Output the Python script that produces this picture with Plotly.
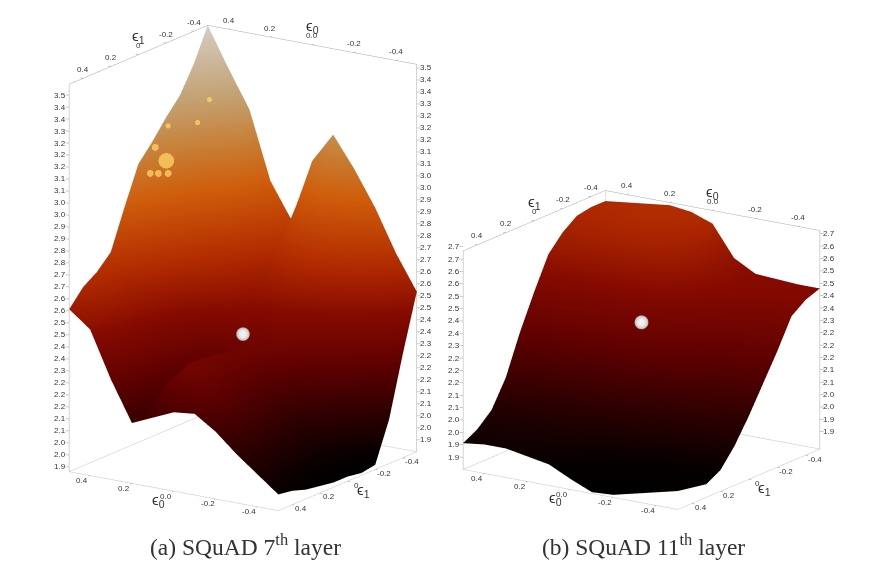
import numpy as np
import plotly.graph_objects as go

W, H = 869, 560   # the page adds an 8 px body margin

eps0 = [0.5, 0.4, 0.3, 0.2, 0.1, 0.0, -0.1, -0.2, -0.3, -0.4, -0.5]
eps1 = [0.5, 0.4, 0.3, 0.2, 0.1, 0.0, -0.1, -0.2, -0.3, -0.4, -0.5]

# rows: eps0 from 0.5 to -0.5, columns: eps1 from 0.5 to -0.5
loss_7th = [
    [2.60, 2.67, 2.71, 2.77, 2.94, 3.10, 3.17, 3.25, 3.32, 3.43, 3.57],
    [2.53, 2.58, 2.60, 2.62, 2.70, 2.82, 2.95, 3.05, 3.18, 3.30, 3.40],
    [2.33, 2.40, 2.45, 2.48, 2.52, 2.62, 2.72, 2.85, 3.00, 3.15, 3.24],
    [2.16, 2.18, 2.20, 2.25, 2.32, 2.44, 2.58, 2.68, 2.78, 2.90, 2.95],
    [2.20, 2.32, 2.24, 2.22, 2.22, 2.34, 2.50, 2.55, 2.62, 2.72, 2.80],
    [2.24, 2.42, 2.42, 2.41, 2.40, 2.40, 2.42, 2.52, 2.66, 2.85, 3.07],
    [2.25, 2.36, 2.34, 2.32, 2.32, 2.32, 2.42, 2.52, 2.68, 2.90, 3.20],
    [2.19, 2.22, 2.22, 2.20, 2.19, 2.18, 2.26, 2.42, 2.62, 2.82, 3.07],
    [2.11, 2.12, 2.10, 2.09, 2.08, 2.06, 2.12, 2.28, 2.52, 2.72, 2.92],
    [2.04, 2.02, 2.00, 1.99, 1.98, 1.97, 2.00, 2.10, 2.32, 2.58, 2.74],
    [1.97, 1.96, 1.94, 1.93, 1.92, 1.92, 1.91, 1.92, 2.09, 2.35, 2.59],
]
loss_11th = [
    [1.99, 2.02, 2.07, 2.17, 2.32, 2.45, 2.57, 2.63, 2.67, 2.68, 2.68],
    [2.00, 2.02, 2.05, 2.15, 2.30, 2.45, 2.57, 2.64, 2.67, 2.69, 2.69],
    [2.00, 2.01, 2.04, 2.13, 2.28, 2.44, 2.57, 2.64, 2.68, 2.70, 2.70],
    [1.985, 2.00, 2.03, 2.11, 2.25, 2.42, 2.55, 2.64, 2.68, 2.70, 2.71],
    [1.97, 1.98, 2.01, 2.08, 2.22, 2.40, 2.54, 2.63, 2.67, 2.69, 2.70],
    [1.93, 1.95, 1.98, 2.05, 2.19, 2.38, 2.52, 2.60, 2.64, 2.66, 2.67],
    [1.895, 1.92, 1.95, 2.02, 2.15, 2.33, 2.46, 2.53, 2.56, 2.56, 2.555],
    [1.90, 1.91, 1.93, 1.98, 2.10, 2.26, 2.38, 2.46, 2.50, 2.51, 2.51],
    [1.92, 1.92, 1.93, 1.97, 2.06, 2.19, 2.32, 2.41, 2.47, 2.50, 2.505],
    [1.94, 1.94, 1.94, 1.97, 2.04, 2.15, 2.27, 2.38, 2.45, 2.49, 2.50],
    [1.96, 1.95, 1.94, 1.97, 2.04, 2.13, 2.23, 2.33, 2.44, 2.48, 2.50],
]

# specular glints on the 7th-layer surface
glint_eps0 = [0.2, 0.2, 0.2, 0.2, 0.2, 0.2, 0.2, 0.2]
glint_eps1 = [0.253, 0.368, 0.31, 0.239, 0.332, -0.06, 0.026, 0.239]
glint_z = [3.229, 3.203, 3.188, 3.17, 3.306, 3.412, 3.335, 3.375]
glint_size = [18, 8, 8, 8, 8, 6, 6, 6]

z_labels_7th = ["1.9", "2.0", "2.0", "2.1", "2.1", "2.2", "2.2", "2.2", "2.3", "2.4", "2.4",
                "2.5", "2.5", "2.6", "2.6", "2.7", "2.7", "2.8", "2.8", "2.9", "2.9", "3.0",
                "3.0", "3.1", "3.1", "3.2", "3.2", "3.2", "3.3", "3.4", "3.4", "3.5"]
z_labels_11th = ["1.9", "1.9", "2.0", "2.0", "2.1", "2.1", "2.2", "2.2", "2.2", "2.3", "2.4",
                 "2.4", "2.5", "2.5", "2.6", "2.6", "2.7", "2.7"]

xy_ticks = [0.4, 0.2, 0.0, -0.2, -0.4]
eps0_labels = ["0.4", "0.2", "0.0", "-0.2", "-0.4"]
eps1_labels = ["0.4", "0.2", "0", "-0.2", "-0.4"]

colorscale = [
    [0.00, "#000000"], [0.03, "#050000"], [0.12, "#2d0000"], [0.24, "#620000"],
    [0.36, "#8c0a00"], [0.48, "#bc2e00"], [0.63, "#da620c"], [0.72, "#d38234"],
    [0.84, "#cdaa78"], [1.00, "#e1d7cd"],
]
CMIN, CMAX = 1.9, 3.57
TICK_COLOR = "#333333"
eye_dir = np.array([-0.530, 0.800, 0.2815])


def panel(fig, scene, rows, zlo, zhi, z_labels, zstep, off_left, off_right, ball_z, box_aspect):
    z = np.array(rows).T
    fig.add_trace(go.Surface(
        x=eps0, y=eps1, z=z, surfacecolor=z, cmin=CMIN, cmax=CMAX,
        colorscale=colorscale, showscale=False, scene=scene, hoverinfo="skip",
        lighting=dict(ambient=0.95, diffuse=0.25, specular=0.12, roughness=0.5, fresnel=0.05),
        lightposition=dict(x=-300, y=600, z=900),
    ))
    # ball at the optimum, shaded from its normals
    u, v = np.meshgrid(np.linspace(0, 2 * np.pi, 37), np.linspace(np.pi, 0, 25))
    r = 0.027
    rz = r * (zhi - zlo) / box_aspect
    nx, ny, nz = np.cos(u) * np.sin(v), np.sin(u) * np.sin(v), np.cos(v)
    shade = np.clip(nx * eye_dir[0] + ny * eye_dir[1] + nz * eye_dir[2], 0, 1)
    fig.add_trace(go.Surface(
        x=r * nx, y=r * ny, z=ball_z + rz * nz, surfacecolor=shade, cmin=0, cmax=1,
        colorscale=[[0, "#8c8886"], [0.6, "#d2d0ce"], [1, "#f4f4f4"]], showscale=False,
        scene=scene, hoverinfo="skip",
        lighting=dict(ambient=1.0, diffuse=0.0, specular=0.0, roughness=1.0, fresnel=0.0),
    ))

    # box
    a, b = 0.5, -0.5
    edges_back = [
        [(a, a, zlo), (a, b, zlo)], [(a, b, zlo), (b, b, zlo)],
        [(a, a, zlo), (b, a, zlo)], [(b, a, zlo), (b, b, zlo)],
        [(a, b, zlo), (a, b, zhi)],
    ]
    edges_top = [
        [(a, a, zlo), (a, a, zhi)], [(b, b, zlo), (b, b, zhi)],
        [(a, a, zhi), (a, b, zhi)], [(a, b, zhi), (b, b, zhi)],
    ]
    for edges, col in ((edges_back, "#c4c4c4"), (edges_top, "#a8a8a8")):
        xs, ys, zs = [], [], []
        for p, q in edges:
            xs += [p[0], q[0], None]
            ys += [p[1], q[1], None]
            zs += [p[2], q[2], None]
        fig.add_trace(go.Scatter3d(x=xs, y=ys, z=zs, mode="lines", scene=scene,
                                   line=dict(color=col, width=1), hoverinfo="skip",
                                   showlegend=False))

    # ticks
    xs, ys, zs = [], [], []
    t = 0.012
    for v_ in xy_ticks:
        xs += [v_, v_, None, v_, v_, None, a, a + t, None, b, b - t, None]
        ys += [b, b - t, None, a, a + t, None, v_, v_, None, v_, v_, None]
        zs += [zhi, zhi, None, zlo, zlo, None, zhi, zhi, None, zlo, zlo, None]
    zt = [zlo + off_left * zstep + i * zstep for i in range(len(z_labels))]
    zr = [zlo + off_right * zstep + i * zstep for i in range(len(z_labels))]
    for q in zt:
        xs += [a, a + t, None]
        ys += [a, a + t * 0.6, None]
        zs += [q, q, None]
    for q in zr:
        xs += [b, b - t, None]
        ys += [b, b - t * 0.6, None]
        zs += [q, q, None]
    fig.add_trace(go.Scatter3d(x=xs, y=ys, z=zs, mode="lines", scene=scene,
                               line=dict(color="#999999", width=1), hoverinfo="skip",
                               showlegend=False))

    ann = []

    def label(x, y, z_, text, dx, dy, size=8):
        ann.append(dict(x=x, y=y, z=z_, text=text, showarrow=False, xshift=dx, yshift=dy,
                        font=dict(family="Liberation Sans", size=size, color=TICK_COLOR)))

    for v_, s0, s1 in zip(xy_ticks, eps0_labels, eps1_labels):
        label(v_, b, zhi, s0, 0, 9)          # top, eps0
        label(a, v_, zhi, s1, 0, 9)          # top, eps1
        label(v_, a, zlo, s0, -8, -5)        # bottom, eps0
        label(b, v_, zlo, s1, 9, -4)         # bottom, eps1
    label(0, b, zhi, "ϵ<sub>0</sub>", 0, 18, 15)
    label(a, 0, zhi, "ϵ<sub>1</sub>", 0, 18, 15)
    label(0, a, zlo, "ϵ<sub>0</sub>", -15, -9, 15)
    label(b, 0, zlo, "ϵ<sub>1</sub>", 16, -9, 15)
    for q, s in zip(zt, z_labels):
        label(a, a, q, s, -9, 0)
    for q, s in zip(zr, z_labels):
        label(b, b, q, s, 9, 0)
    return ann


fig = go.Figure()
ann_a = panel(fig, "scene", loss_7th, 1.9, 3.57, z_labels_7th, 0.0517, 0.4, 1.0, 2.45, 1.61)
ann_b = panel(fig, "scene2", loss_11th, 1.89, 2.72, z_labels_11th, 0.047, 1.0, 1.4, 2.41, 0.884)
fig.add_trace(go.Scatter3d(
    x=glint_eps0, y=glint_eps1, z=glint_z, mode="markers", scene="scene", hoverinfo="skip",
    marker=dict(size=glint_size, color="#ffd468", opacity=0.75, symbol="circle",
                line=dict(width=0)),
))

hidden = dict(visible=False, showgrid=False, zeroline=False, showbackground=False)


def scene_layout(domx, domy, zlo, zhi, zaspect, xy_aspect, ann):
    e = eye_dir * 2.0
    return dict(
        domain=dict(x=[domx[0] / W, domx[1] / W], y=[1 - domy[1] / H, 1 - domy[0] / H]),
        xaxis=dict(range=[-0.52, 0.52], **hidden),
        yaxis=dict(range=[-0.52, 0.52], **hidden),
        zaxis=dict(range=[zlo, zhi], **hidden),
        aspectmode="manual",
        aspectratio=dict(x=xy_aspect, y=xy_aspect, z=zaspect),
        camera=dict(eye=dict(x=e[0], y=e[1], z=e[2]), up=dict(x=0, y=0, z=1),
                    center=dict(x=0, y=0, z=0), projection=dict(type="orthographic")),
        annotations=ann,
        bgcolor="rgba(0,0,0,0)",
    )


fig.update_layout(
    width=W, height=H, margin=dict(l=0, r=0, t=0, b=0), autosize=False,
    paper_bgcolor="white", showlegend=False,
    scene=scene_layout((0, 470), (2, 518), 1.86, 3.61, 1.64, 1.011, ann_a),
    scene2=scene_layout((398, 869), (124, 560), 1.87, 2.74, 1.095, 1.228, ann_b),
    annotations=[
        dict(x=238 / W, y=1 - 537 / H, xref="paper", yref="paper", showarrow=False,
             xanchor="center", yanchor="middle",
             text="(a) SQuAD 7<sup>th</sup> layer",
             font=dict(family="Liberation Serif", size=23.5, color="#333333")),
        dict(x=635 / W, y=1 - 537 / H, xref="paper", yref="paper", showarrow=False,
             xanchor="center", yanchor="middle",
             text="(b) SQuAD 11<sup>th</sup> layer",
             font=dict(family="Liberation Serif", size=23.5, color="#333333")),
    ],
)

fig.write_html("out.html")
